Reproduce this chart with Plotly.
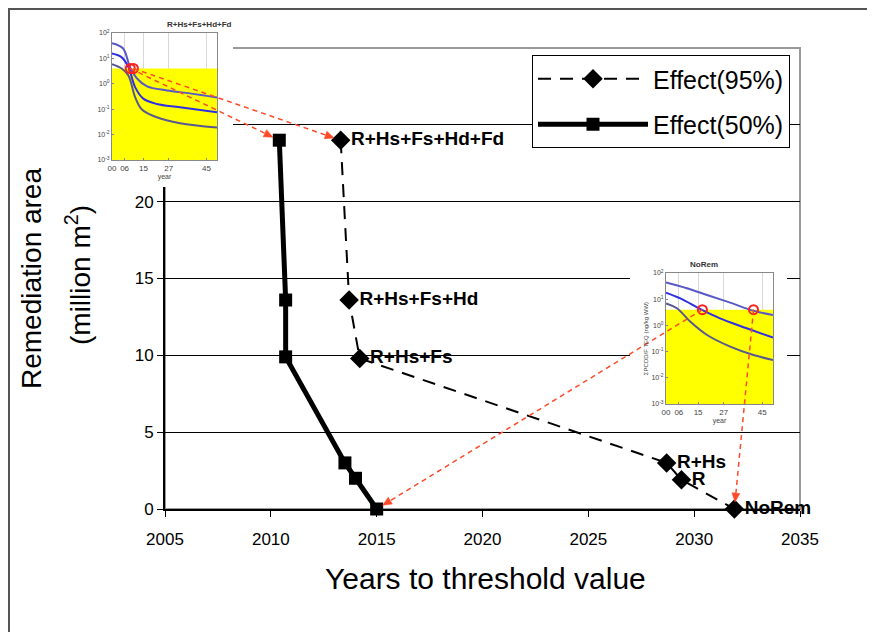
import numpy as np
import plotly.graph_objects as go

# page body has an 8px margin: figure is placed at (8, 8) in the window
OX, OY = 8, 8
W, H = 875 - OX, 632 - OY
FONT = "Liberation Sans, Arial, sans-serif"

# ---------------- main chart data ----------------
strategies = ["R+Hs+Fs+Hd+Fd", "R+Hs+Fs+Hd", "R+Hs+Fs", "R+Hs", "R", "NoRem"]
years_50 = [2010.4, 2010.7, 2010.7, 2013.5, 2014.0, 2015.0]
area_50 = [24.0, 13.6, 9.9, 3.0, 2.0, 0.0]
years_95 = [2013.3, 2013.7, 2014.2, 2028.7, 2029.4, 2031.9]
area_95 = [24.0, 13.6, 9.8, 3.0, 1.9, 0.0]
x_ticks = [2005, 2010, 2015, 2020, 2025, 2030, 2035]
y_ticks = [0, 5, 10, 15, 20, 25]

# ---------------- inset data (concentration curves) ----------------
inset_ticks = [0, 6, 15, 27, 45]
inset_ticktext = ["00", "06", "15", "27", "45"]
log_ticks = [0.001, 0.01, 0.1, 1, 10, 100]
log_ticktext = ["10<sup>-3</sup>", "10<sup>-2</sup>", "10<sup>-1</sup>",
                "10<sup>0</sup>", "10<sup>1</sup>", "10<sup>2</sup>"]
threshold = 4.0

# left inset: R+Hs+Fs+Hd+Fd
L_top_x = [0, 5.2, 8.6, 11.9, 16.7, 26.2, 37.1, 50]
L_top_y = [39.8, 25.1, 4.47, 1.62, 0.79, 0.55, 0.42, 0.29]
L_mid_x = [0, 4.6, 7.8, 11.0, 14.9, 21.3, 32.4, 50]
L_mid_y = [15.5, 11.0, 4.57, 0.74, 0.26, 0.16, 0.12, 0.076]
L_bot_x = [0, 4.6, 7.8, 11.0, 14.1, 21.3, 32.4, 50]
L_bot_y = [5.9, 4.0, 2.14, 0.30, 0.10, 0.048, 0.028, 0.019]
L_circ_x = [8.7, 10.2]
L_circ_y = [4.0, 4.0]

# right inset: NoRem
R_top_x = [0, 9.8, 19.2, 30.0, 40.9, 50]
R_top_y = [43.7, 26.3, 14.5, 7.4, 3.6, 2.5]
R_mid_x = [0, 6.7, 16.8, 25.2, 37.7, 50]
R_mid_y = [17.8, 10.7, 3.9, 1.86, 0.78, 0.34]
R_bot_x = [0, 5.1, 11.4, 19.2, 30.0, 40.9, 50]
R_bot_y = [6.9, 4.5, 1.38, 0.43, 0.155, 0.074, 0.048]
R_circ_x = [17.0, 40.9]
R_circ_y = [4.0, 4.0]


# ---------------- layout geometry (window pixels -> paper fractions) ----------------
def PX(px):
    return (px - OX) / W


def PY(py):
    return 1 - (py - OY) / H


MAIN_XD = [PX(165), PX(800)]
MAIN_YD = [PY(509), PY(48)]
MAIN_XR = [2005, 2035]
MAIN_YR = [0, 30]
COVL_XD = [PX(85), PX(233)]
COVL_YD = [PY(187), PY(9)]
COVR_XD = [PX(630), PX(787)]
COVR_YD = [PY(428), PY(255)]
INL_XD = [PX(112), PX(217)]
INL_YD = [PY(160), PY(33)]
INR_XD = [PX(666), PX(773)]
INR_YD = [PY(404), PY(273)]
IN_XR = [0, 50]
IN_YR = [-3, 2]


def to_px(xd, yd, xr, yr, x, y, logy=False):
    """data value -> figure pixel (origin at figure top-left)"""
    fx = (x - xr[0]) / (xr[1] - xr[0])
    yy = np.log10(y) if logy else y
    fy = (yy - yr[0]) / (yr[1] - yr[0])
    xp = xd[0] + fx * (xd[1] - xd[0])
    yp = yd[0] + fy * (yd[1] - yd[0])
    return xp * W, (1 - yp) * H


fig = go.Figure()

# main traces
fig.add_trace(go.Scatter(
    x=years_95, y=area_95, name="Effect(95%)", mode="lines+markers+text",
    text=strategies, textposition="middle right",
    textfont=dict(family=FONT, size=19, color="black", weight="bold"),
    line=dict(color="black", width=2, dash="13px,9px"),
    marker=dict(symbol="diamond", size=15, color="black"),
    cliponaxis=False, legendgroup="a"))
fig.add_trace(go.Scatter(
    x=years_50, y=area_50, name="Effect(50%)", mode="lines+markers",
    line=dict(color="black", width=5),
    marker=dict(symbol="square", size=13, color="black"),
    cliponaxis=False, legendgroup="b"))

# cover subplots (white backgrounds behind insets)
for ax in ["2", "3"]:
    fig.add_trace(go.Scatter(x=[0.5], y=[0.5], xaxis="x" + ax, yaxis="y" + ax,
                             mode="markers", marker=dict(opacity=0),
                             showlegend=False, hoverinfo="skip"))


# insets
def add_inset(ax, top, mid, bot, circ):
    fig.add_trace(go.Scatter(x=[IN_XR[0], IN_XR[1], IN_XR[1], IN_XR[0]],
                             y=[0.001, 0.001, threshold, threshold],
                             fill="toself", fillcolor="#ffff00", mode="lines",
                             line=dict(width=0), xaxis="x" + ax, yaxis="y" + ax,
                             showlegend=False, hoverinfo="skip"))
    for (xs, ys), col in zip([top, mid, bot], ["#5858c8", "#2e2ee6", "#585890"]):
        fig.add_trace(go.Scatter(x=xs, y=ys, mode="lines", line=dict(color=col, width=2, shape="spline"),
                                 xaxis="x" + ax, yaxis="y" + ax, showlegend=False, hoverinfo="skip"))
    fig.add_trace(go.Scatter(x=circ[0], y=circ[1], mode="markers",
                             marker=dict(symbol="circle-open", size=9, color="#ff2020", line=dict(width=2)),
                             xaxis="x" + ax, yaxis="y" + ax, showlegend=False, hoverinfo="skip"))


add_inset("4", (L_top_x, L_top_y), (L_mid_x, L_mid_y), (L_bot_x, L_bot_y), (L_circ_x, L_circ_y))
add_inset("5", (R_top_x, R_top_y), (R_mid_x, R_mid_y), (R_bot_x, R_bot_y), (R_circ_x, R_circ_y))

small = dict(family=FONT, size=8, color="#444")
inset_x = dict(range=IN_XR, tickvals=inset_ticks, ticktext=inset_ticktext, tickfont=small,
               showline=True, mirror=True, linecolor="#888", linewidth=1, ticks="inside",
               ticklen=2, tickcolor="#888", showgrid=True, gridcolor="#d8d8d8", zeroline=False,
               title=dict(text="year", font=dict(family=FONT, size=7, color="#444"), standoff=1),
               automargin=False)
inset_y = dict(type="log", range=IN_YR, tickvals=log_ticks, ticktext=log_ticktext,
               tickfont=dict(family=FONT, size=7, color="#444"),
               showline=True, mirror=True, linecolor="#888", linewidth=1, ticks="inside",
               ticklen=2, tickcolor="#888", showgrid=False, zeroline=False, automargin=False)
hidden = dict(visible=False, range=[0, 1], fixedrange=True, automargin=False)

fig.update_layout(
    template="none",
    width=W, height=H, autosize=False,
    margin=dict(l=0, r=0, t=0, b=0, pad=0, autoexpand=False),
    paper_bgcolor="white", plot_bgcolor="white",
    font=dict(family=FONT, color="black"),
    xaxis=dict(domain=MAIN_XD, range=MAIN_XR, anchor="y", tickvals=x_ticks,
               ticks="outside", ticklen=6, tickcolor="black", showline=True, linecolor="black",
               linewidth=2, showgrid=False, zeroline=False, tickfont=dict(size=17),
               ticklabelstandoff=8, automargin=False),
    yaxis=dict(domain=MAIN_YD, range=MAIN_YR, anchor="x", tickvals=y_ticks,
               ticks="outside", ticklen=6, tickcolor="black", showline=True, linecolor="black",
               linewidth=2, showgrid=True, gridcolor="black", gridwidth=1, zeroline=False,
               tickfont=dict(size=17), automargin=False),
    xaxis2=dict(domain=COVL_XD, anchor="y2", **hidden),
    yaxis2=dict(domain=COVL_YD, anchor="x2", **hidden),
    xaxis3=dict(domain=COVR_XD, anchor="y3", **hidden),
    yaxis3=dict(domain=COVR_YD, anchor="x3", **hidden),
    xaxis4=dict(domain=INL_XD, anchor="y4", **inset_x),
    yaxis4=dict(domain=INL_YD, anchor="x4", **inset_y),
    xaxis5=dict(domain=INR_XD, anchor="y5", **inset_x),
    yaxis5=dict(domain=INR_YD, anchor="x5",
                title=dict(text="ΣPCDD/F TEQ (ng/kg WW)", font=dict(family=FONT, size=6, color="#444"), standoff=2),
                **inset_y),
    legend=dict(x=PX(532), y=PY(55), xanchor="left", yanchor="top",
                bgcolor="white", bordercolor="black", borderwidth=1,
                font=dict(family=FONT, size=25), itemwidth=110, tracegroupgap=10),
    showlegend=True,
)

shapes = []
annots = []
# gray plot frame (top/right) behind everything
shapes.append(dict(type="rect", xref="paper", yref="paper", x0=MAIN_XD[0], x1=MAIN_XD[1],
                   y0=MAIN_YD[0], y1=MAIN_YD[1], line=dict(color="#9a9a9a", width=2), layer="below"))
# outer picture frame
shapes.append(dict(type="rect", xref="paper", yref="paper", x0=PX(9), x1=1.05, y0=-0.05, y1=PY(9),
                   line=dict(color="#555", width=2), layer="above"))

# red dashed arrows from insets to the main chart
pairs = [
    (to_px(INL_XD, INL_YD, IN_XR, IN_YR, L_circ_x[0], L_circ_y[0], True),
     to_px(MAIN_XD, MAIN_YD, MAIN_XR, MAIN_YR, years_50[0], area_50[0])),
    (to_px(INL_XD, INL_YD, IN_XR, IN_YR, L_circ_x[1], L_circ_y[1], True),
     to_px(MAIN_XD, MAIN_YD, MAIN_XR, MAIN_YR, years_95[0], area_95[0])),
    (to_px(INR_XD, INR_YD, IN_XR, IN_YR, R_circ_x[0], R_circ_y[0], True),
     to_px(MAIN_XD, MAIN_YD, MAIN_XR, MAIN_YR, years_50[-1], area_50[-1])),
    (to_px(INR_XD, INR_YD, IN_XR, IN_YR, R_circ_x[1], R_circ_y[1], True),
     to_px(MAIN_XD, MAIN_YD, MAIN_XR, MAIN_YR, years_95[-1], area_95[-1])),
]
RED = "#ff4a2a"


def pp(x, y):
    return f"{x / W:.5f},{1 - y / H:.5f}"


for (tx, ty), (hx, hy) in pairs:
    dx, dy = hx - tx, hy - ty
    d = np.hypot(dx, dy)
    ux, uy = dx / d, dy / d
    ex, ey = hx - ux * 7, hy - uy * 7          # arrow tip
    bx, by = ex - ux * 9, ey - uy * 9          # base of the arrow head
    shapes.append(dict(type="line", xref="paper", yref="paper",
                       x0=tx / W, y0=1 - ty / H, x1=bx / W, y1=1 - by / H,
                       line=dict(color=RED, width=1.5, dash="5px,4px"), layer="above"))
    nx, ny = -uy, ux
    path = (f"M{pp(ex, ey)} L{pp(bx + nx * 4, by + ny * 4)} "
            f"L{pp(bx - nx * 4, by - ny * 4)} Z")
    shapes.append(dict(type="path", xref="paper", yref="paper", path=path,
                       fillcolor=RED, line=dict(color=RED, width=0.5), layer="above"))

# axis titles
annots.append(dict(xref="paper", yref="paper", x=PX(485), y=PY(578), text="Years to threshold value",
                   showarrow=False, font=dict(family=FONT, size=30), xanchor="center", yanchor="middle"))
annots.append(dict(xref="paper", yref="paper", x=PX(31), y=PY(279), text="Remediation area",
                   showarrow=False, font=dict(family=FONT, size=28), textangle=-90,
                   xanchor="center", yanchor="middle"))
annots.append(dict(xref="paper", yref="paper", x=PX(78), y=PY(275), text="(million m<sup>2</sup>)",
                   showarrow=False, font=dict(family=FONT, size=28), textangle=-90,
                   xanchor="center", yanchor="middle"))
# inset titles
annots.append(dict(xref="paper", yref="paper", x=(INL_XD[0] + INL_XD[1]) / 2, y=INL_YD[1] + 2 / H,
                   text="<b>R+Hs+Fs+Hd+Fd</b>", showarrow=False, yanchor="bottom",
                   font=dict(family=FONT, size=8, color="#333")))
annots.append(dict(xref="paper", yref="paper", x=(INR_XD[0] + INR_XD[1]) / 2, y=INR_YD[1] + 2 / H,
                   text="<b>NoRem</b>", showarrow=False, yanchor="bottom",
                   font=dict(family=FONT, size=8, color="#333")))

fig.update_layout(shapes=shapes, annotations=annots)
fig.write_html("out.html")
